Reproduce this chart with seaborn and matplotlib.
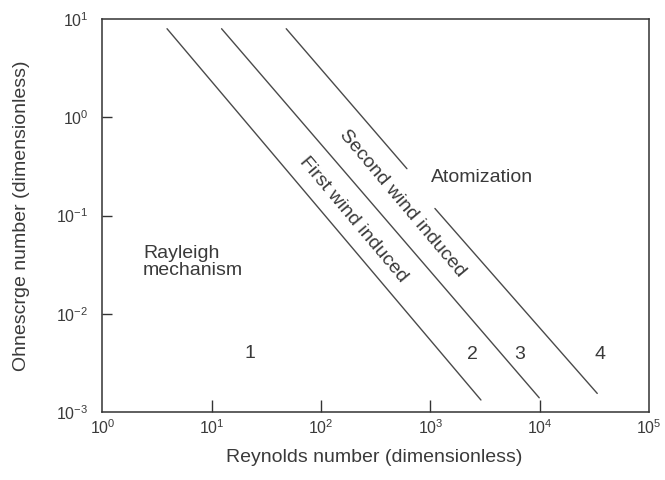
import numpy as np
import pandas as pd
import matplotlib
matplotlib.use("Agg")
import matplotlib.pyplot as plt
import seaborn as sns
from matplotlib.ticker import LogLocator, LogFormatterSciNotation, NullLocator

# ---- data ----
seg_names = ["first", "second", "third_upper", "third_lower"]
seg_re_start = [3.9, 12.3, 48.0, 1100.0]
seg_re_end = [2900.0, 9900.0, 610.0, 33600.0]
seg_oh_start = [8.0, 8.0, 8.0, 0.118]
seg_oh_end = [0.00132, 0.00139, 0.30, 0.00154]

region_labels = ["1", "2", "3", "4"]
region_re = [22.4, 2400.0, 6600.0, 35600.0]
region_oh = [0.0039, 0.0038, 0.0038, 0.0038]

x_ticks = [1e0, 1e1, 1e2, 1e3, 1e4, 1e5]
y_ticks = [1e-3, 1e-2, 1e-1, 1e0, 1e1]

rows = []
for n, r0, r1, o0, o1 in zip(seg_names, seg_re_start, seg_re_end, seg_oh_start, seg_oh_end):
    rows.append({"segment": n, "Re": r0, "Oh": o0})
    rows.append({"segment": n, "Re": r1, "Oh": o1})
df = pd.DataFrame(rows)

sns.set_theme(style="white")
plt.rcParams["font.family"] = ["Liberation Sans", "DejaVu Sans"]
plt.rcParams["mathtext.default"] = "regular"

TXT = "#3a3a3a"
LINE = "#4a4a4a"

fig = plt.figure(figsize=(6.65, 4.8), dpi=100)
ax = fig.add_axes([0.154, 0.142, 0.822, 0.818])

sns.lineplot(data=df, x="Re", y="Oh", units="segment", estimator=None,
             color=LINE, linewidth=1.0, ax=ax, legend=False)

ax.set_xscale("log")
ax.set_yscale("log")
ax.set_xlim(1e0, 1e5)
ax.set_ylim(1e-3, 1e1)

ax.xaxis.set_major_locator(plt.FixedLocator(x_ticks))
ax.yaxis.set_major_locator(plt.FixedLocator(y_ticks))
ax.xaxis.set_major_formatter(LogFormatterSciNotation())
ax.yaxis.set_major_formatter(LogFormatterSciNotation())
ax.xaxis.set_minor_locator(NullLocator())
ax.yaxis.set_minor_locator(NullLocator())

ax.tick_params(axis="x", direction="in", length=8.5, width=1.0, color="#333333",
               labelsize=11.5, labelcolor=TXT, pad=5, bottom=True, top=False)
ax.tick_params(axis="y", direction="in", length=7.5, width=1.0, color="#333333",
               labelsize=11.5, labelcolor=TXT, pad=10, left=True, right=False)
for t in (ax.xaxis.get_major_ticks()[0], ax.xaxis.get_major_ticks()[-1],
          ax.yaxis.get_major_ticks()[0], ax.yaxis.get_major_ticks()[-1]):
    t.tick1line.set_visible(False)

for s in ax.spines.values():
    s.set_color("#333333")
    s.set_linewidth(1.1)

ax.set_xlabel("Reynolds number (dimensionless)", fontsize=14, color=TXT, va="center")
ax.set_ylabel("Ohnescrge number (dimensionless)", fontsize=14, color=TXT, va="center")
ax.xaxis.set_label_coords(0.498, -0.117)
ax.yaxis.set_label_coords(-0.148, 0.5)

ax.text(196, 0.090, "First wind induced", rotation=-50, fontsize=14, color=TXT,
        ha="center", va="center", rotation_mode="anchor")
ax.text(550, 0.134, "Second wind induced", rotation=-50, fontsize=14, color=TXT,
        ha="center", va="center", rotation_mode="anchor")
ax.text(2945, 0.244, "Atomization", fontsize=14, color=TXT, ha="center", va="center")
ax.text(2.36, 0.050, "Rayleigh\nmechanism", fontsize=14, color=TXT, ha="left",
        va="top", linespacing=1.0)
for lab, rx, oy in zip(region_labels, region_re, region_oh):
    ax.text(rx, oy, lab, fontsize=14, color=TXT, ha="center", va="center")

fig.savefig("out.png", dpi=100)
